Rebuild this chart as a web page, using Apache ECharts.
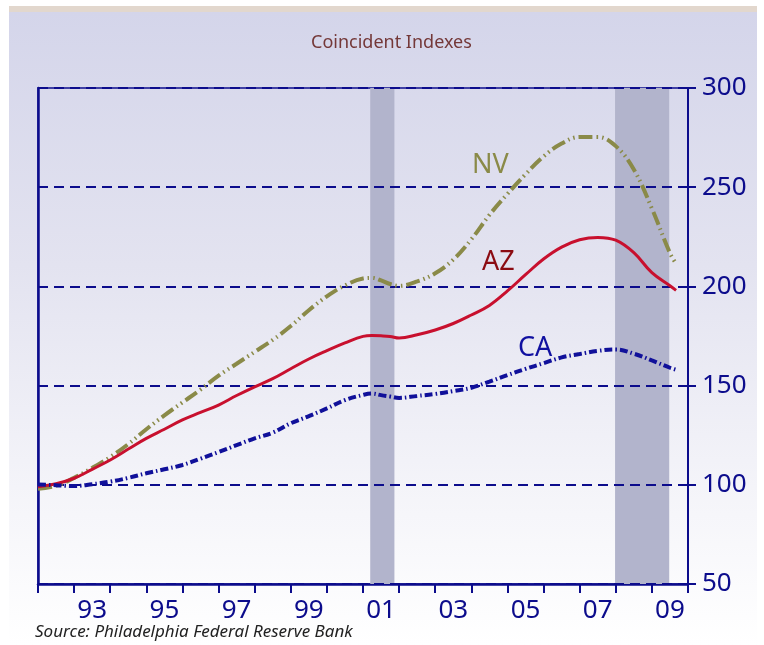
<!DOCTYPE html>
<html>
<head>
<meta charset="utf-8">
<script src="https://cdn.jsdelivr.net/npm/echarts@6/dist/echarts.min.js"></script>
<style>
  body { margin: 0; background: #fff; }
  #wrap { position: relative; width: 764px; height: 645px; overflow: hidden; background: #fff; }
  #panel { position: absolute; left: 9px; top: 12px; width: 748px; height: 633px;
           background: linear-gradient(#d4d5ea 0%, #e3e3f0 40%, #f4f4f9 75%, #ffffff 100%); }
  #strip { position: absolute; left: 9px; top: 6px; width: 748px; height: 6px; background: #e2d7cd; }
  #chart { position: absolute; left: 0; top: 0; width: 764px; height: 645px; }
</style>
</head>
<body>
<div id="wrap">
  <div id="strip"></div>
  <div id="panel"></div>
  <div id="chart"></div>
</div>
<script>
// dates in decimal years
var dates = [1992.0, 1992.5, 1993.0, 1993.5, 1994.0, 1994.5, 1995.0, 1995.5, 1996.0, 1996.5,
             1997.0, 1997.5, 1998.0, 1998.5, 1999.0, 1999.5, 2000.0, 2000.5, 2001.0, 2001.25,
             2001.5, 2001.75, 2002.0, 2002.5, 2003.0, 2003.5, 2004.0, 2004.5, 2005.0, 2005.5,
             2006.0, 2006.5, 2007.0, 2007.5, 2008.0, 2008.5, 2009.0, 2009.5, 2009.67];
var nv = [98, 99.5, 103.5, 108.5, 114, 120.5, 128, 135, 141.5, 148,
          155, 161, 167, 173, 180, 188, 195, 200.5, 204, 204.3,
          203, 201.2, 200.3, 202.5, 206.6, 213.5, 223.7, 236, 246.6, 256.5,
          265.5, 272, 275.3, 275.3, 270.7, 258.9, 239.3, 216.8, 211.5];
var az = [99, 100.5, 103.3, 107.8, 112.5, 118, 123.4, 128, 132.7, 136.5,
          140.2, 145, 149.4, 153.5, 158.5, 163.4, 167.6, 171.5, 174.8, 175.2,
          175.1, 174.8, 174, 175.6, 178, 181.3, 185.6, 190.4, 197.7, 205.9,
          213.8, 219.8, 223.5, 224.7, 223.3, 217, 206.9, 200.3, 198];
var ca = [100.2, 99.8, 99.4, 100.3, 101.6, 103.5, 105.8, 107.8, 110, 113.2,
          116.5, 120, 123.4, 126.3, 131, 134.6, 138.5, 142.7, 145.3, 146,
          145.2, 144.5, 143.8, 144.8, 145.8, 147.2, 148.9, 152, 155.3, 158.4,
          161.3, 164.2, 165.9, 167.5, 168.2, 166.1, 162.7, 159, 158];
// recessions
var recStart = [2001.2, 2007.98];
var recEnd = [2001.87, 2009.48];
// x tick labels, one per year 1992..2009
var yearLabels = ['', '93', '', '95', '', '97', '', '99', '', '01', '', '03', '', '05', '', '07', '', '09'];

var navy = '#0c0c8c';
var font = 'Noto Sans';

function pairs(vals) {
  var out = [];
  for (var i = 0; i < vals.length; i++) out.push([dates[i], vals[i]]);
  return out;
}
var bands = [];
for (var i = 0; i < recStart.length; i++) {
  bands.push([{ xAxis: recStart[i], yAxis: 300 }, { xAxis: recEnd[i], yAxis: 50 }]);
}

var chart = echarts.init(document.getElementById('chart'));
chart.setOption({
  animation: false,
  title: {
    text: 'Coincident Indexes',
    left: 306, top: 29,
    textStyle: { fontFamily: font, fontSize: 18, fontWeight: 'normal', color: '#743838' }
  },
  grid: { left: 38, right: 76, top: 88, bottom: 61, show: true, borderColor: navy, borderWidth: 1.5, backgroundColor: 'transparent' },
  xAxis: [
    {
      type: 'value', min: 1992, max: 2010, interval: 1,
      axisLine: { show: true, onZero: false, lineStyle: { color: navy, width: 2.5 } },
      axisTick: { show: true, length: 9, lineStyle: { color: navy, width: 2 } },
      axisLabel: { show: false },
      splitLine: { show: false }
    },
    {
      type: 'category', data: yearLabels, position: 'bottom', boundaryGap: true,
      axisLine: { show: false }, axisTick: { show: false },
      axisLabel: { interval: 0, margin: 14, fontFamily: font, fontSize: 26, color: navy }
    }
  ],
  yAxis: [
    {
      type: 'value', position: 'right', min: 50, max: 300, interval: 50, z: 3,
      axisLine: { show: true, lineStyle: { color: navy, width: 2 } },
      axisTick: { show: true, length: 8, lineStyle: { color: navy, width: 2 } },
      axisLabel: { margin: 14, fontFamily: font, fontSize: 26, color: navy },
      splitLine: { show: true, lineStyle: { color: navy, width: 2, type: [10, 6] } }
    },
    {
      type: 'value', position: 'left', min: 50, max: 300, interval: 50,
      axisLine: { show: true, lineStyle: { color: navy, width: 2.5 } },
      axisTick: { show: false }, axisLabel: { show: false }, splitLine: { show: false }
    }
  ],
  series: [
    {
      name: 'rec', type: 'line', data: [], z: 1,
      markArea: { silent: true, itemStyle: { color: '#b2b4cc' }, data: bands }
    },
    {
      name: 'NV', type: 'line', data: pairs(nv), smooth: 0.4, showSymbol: false, z: 5,
      lineStyle: { color: '#8a8a48', width: 4, type: [14, 4, 1.5, 4, 1.5, 4] }
    },
    {
      name: 'AZ', type: 'line', data: pairs(az), smooth: 0.4, showSymbol: false, z: 5,
      lineStyle: { color: '#c8102e', width: 3 }
    },
    {
      name: 'CA', type: 'line', data: pairs(ca), smooth: 0.4, showSymbol: false, z: 5,
      lineStyle: { color: '#10109a', width: 4, type: [8, 3, 1.5, 3] }
    }
  ],
  graphic: [
    { type: 'text', left: 472, top: 152, style: { text: 'NV', fontFamily: font, fontSize: 27, fill: '#8a8a48' } },
    { type: 'text', left: 482, top: 249, style: { text: 'AZ', fontFamily: font, fontSize: 27, fill: '#8b0b12' } },
    { type: 'text', left: 518, top: 335, style: { text: 'CA', fontFamily: font, fontSize: 27, fill: '#1010a0' } },
    { type: 'text', left: 35, top: 624, style: { text: 'Source: Philadelphia Federal Reserve Bank', fontFamily: font, fontSize: 17, fontStyle: 'italic', fill: '#222' } }
  ]
});
</script>
</body>
</html>
